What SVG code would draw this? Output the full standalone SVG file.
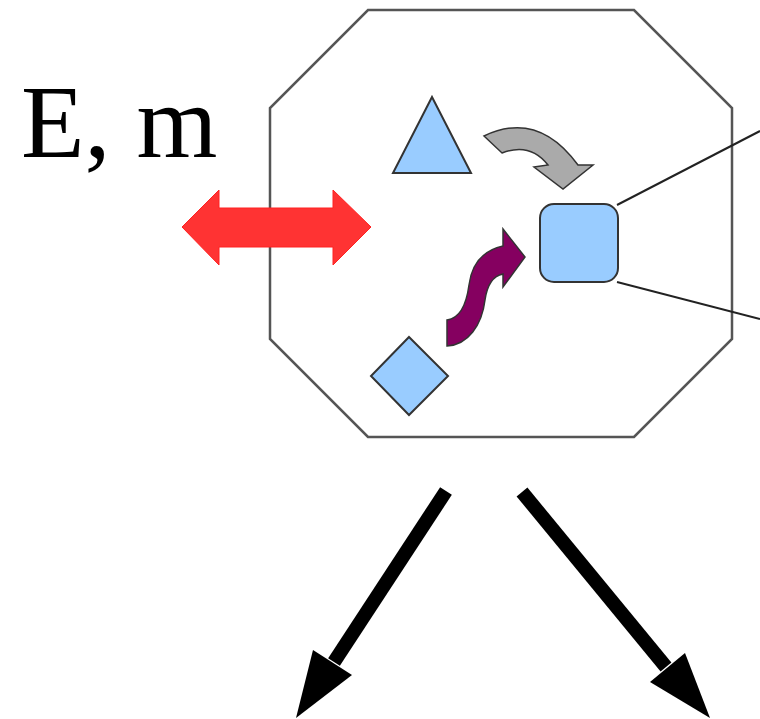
<svg xmlns="http://www.w3.org/2000/svg" width="760" height="719" viewBox="0 0 760 719">
<style>
.shape{fill:#99CCFF;stroke:#333333;stroke-width:2}
.oct{fill:none;stroke:#555555;stroke-width:2.5}
.lead{stroke:#222222;stroke-width:2;fill:none}
.big{stroke:#000000;stroke-width:14;fill:none}
.label{font-family:"Liberation Serif","Times New Roman",serif;font-size:104px;fill:#000000}
</style>
<rect width="760" height="719" fill="#ffffff"/>
<g id="cell">
<polygon class="oct" points="368,10 634,10 732,108 732,339 634,437 368,437 270,339 270,108"/>
</g>
<g id="label"><text class="label" x="21" y="157">E, m</text></g>
<g id="exchange">
<polygon fill="#FF3333" stroke="#FF2222" stroke-width="1" points="182,227 219,190 219,208 333,208 333,190 371,227 333,265 333,247 219,247 219,265"/>
</g>
<g id="triangle"><polygon class="shape" points="432,97 471,173 393,173"/></g>
<g id="square"><rect class="shape" x="540" y="204" width="78" height="78" rx="14"/></g>
<g id="diamond"><polygon class="shape" points="409,337 448,376 409,415 371,376"/></g>
<g id="connectors">
<path fill="#AAAAAA" stroke="#333333" stroke-width="1.5" d="M484,136 Q538,110 578,165 L593,165 L563,189 L534,167 L548,165 Q530,142 502,153 Z"/>
<path fill="#850060" stroke="#333333" stroke-width="1.5" d="M447,320 C462,318 467,300 469,285 C472,262 485,250 503,246 L503,229 L525,257 L503,287 L503,274 C492,276 487,286 485,300 C482,325 468,345 447,346 Z"/>
<line class="lead" x1="617" y1="205" x2="760" y2="131"/>
<line class="lead" x1="617" y1="282" x2="760" y2="319"/>
<line class="big" x1="446" y1="491" x2="334" y2="662"/>
<polygon fill="#000000" points="296,718 313,650 352,675"/>
<line class="big" x1="522" y1="492" x2="666" y2="667"/>
<polygon fill="#000000" points="710,718 650,682 685,653"/>
</g>
</svg>
